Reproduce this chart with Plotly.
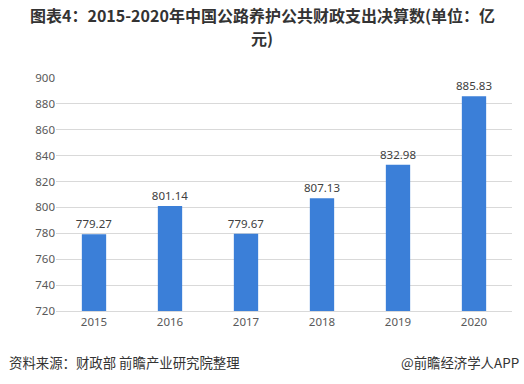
import plotly.graph_objects as go

years = ["2015", "2016", "2017", "2018", "2019", "2020"]
values = [779.27, 801.14, 779.67, 807.13, 832.98, 885.83]
value_labels = ["779.27", "801.14", "779.67", "807.13", "832.98", "885.83"]
y_ticks = [720, 740, 760, 780, 800, 820, 840, 860, 880, 900]

fig = go.Figure()
fig.add_trace(go.Bar(
    x=years, y=values, marker_color="#3b7fd8", marker_line_width=0,
    text=value_labels, textposition="outside", cliponaxis=False,
    constraintext="none",
    textfont=dict(size=11.5, color="#404040", family="Noto Sans, DejaVu Sans"),
    width=0.32,
))
fig.update_layout(
    width=524, height=384, margin=dict(l=56, r=12, t=78, b=73),
    paper_bgcolor="white", plot_bgcolor="white", showlegend=False,
    font=dict(family="Noto Sans CJK SC, Noto Sans", color="#595959"),
    xaxis=dict(showgrid=False, showline=True, linecolor="#d9d9d9", ticks="",
               tickfont=dict(size=11.5, color="#595959", family="Noto Sans, DejaVu Sans")),
    yaxis=dict(range=[720, 900], tickvals=y_ticks, showgrid=True, gridcolor="#d9d9d9",
               zeroline=False, ticks="", ticklen=0,
               tickfont=dict(size=11.5, color="#595959", family="Noto Sans, DejaVu Sans")),
)
title_font = dict(size=16, color="#333333", family="Noto Sans CJK SC")
fig.add_annotation(text="<b>图表4：2015-2020年中国公路养护公共财政支出决算数(单位：亿</b>",
                   xref="paper", yref="paper", x=0.452, y=1.27, xanchor="center",
                   yanchor="middle", showarrow=False, font=title_font)
fig.add_annotation(text="<b>元)</b>",
                   xref="paper", yref="paper", x=0.452, y=1.17, xanchor="center",
                   yanchor="middle", showarrow=False, font=title_font)
fig.add_annotation(text="资料来源：财政部 前瞻产业研究院整理", xref="paper", yref="paper",
                   x=-0.108, y=-0.218, xanchor="left", yanchor="middle", showarrow=False,
                   font=dict(size=13.4, color="#333333", family="Noto Sans CJK SC"))
fig.add_annotation(text="@前瞻经济学人APP", xref="paper", yref="paper",
                   x=1.02, y=-0.218, xanchor="right", yanchor="middle", showarrow=False,
                   font=dict(size=13.4, color="#333333", family="Noto Sans CJK SC"))
fig.write_html("out.html")
